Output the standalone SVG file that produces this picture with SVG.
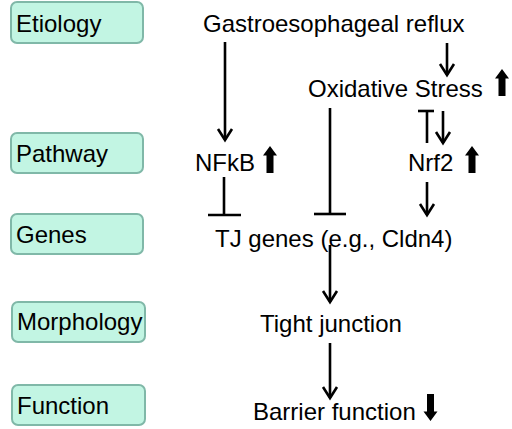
<svg xmlns="http://www.w3.org/2000/svg" width="512" height="429" viewBox="0 0 512 429">
  <style>
    .box { fill: #c2f5e3; stroke: #80b8a8; stroke-width: 2; }
    .lbl { font-family: "Liberation Sans", Arial, sans-serif; font-size: 24px; fill: #000; }
    .ln { stroke: #000; stroke-width: 2.6; fill: none; }
    .blk { fill: #000; }
  </style>
  <defs>
    <marker id="arr" markerUnits="userSpaceOnUse" markerWidth="16" markerHeight="16" refX="11" refY="7" orient="auto" overflow="visible">
      <path d="M0,0 L11,7 L0,14" fill="none" stroke="#000" stroke-width="2.6"/>
    </marker>
    <path id="up" d="M0,0 L7,9.5 L3.5,9.5 L3.5,27 L-3.5,27 L-3.5,9.5 L-7,9.5 Z"/>
  </defs>

  <rect width="512" height="429" fill="#fff"/>

  <g id="cat-etiology">
    <rect class="box" x="11" y="2" width="132" height="41" rx="6"/>
    <text class="lbl" x="16" y="32">Etiology</text>
  </g>
  <g id="cat-pathway">
    <rect class="box" x="11" y="133" width="132" height="40" rx="6"/>
    <text class="lbl" x="16" y="162">Pathway</text>
  </g>
  <g id="cat-genes">
    <rect class="box" x="11" y="214" width="132" height="40" rx="6"/>
    <text class="lbl" x="16" y="243">Genes</text>
  </g>
  <g id="cat-morphology">
    <rect class="box" x="12" y="302" width="133" height="40" rx="6"/>
    <text class="lbl" x="17" y="330">Morphology</text>
  </g>
  <g id="cat-function">
    <rect class="box" x="12" y="385" width="133" height="40" rx="6"/>
    <text class="lbl" x="17" y="414">Function</text>
  </g>

  <g id="node-reflux">
    <text class="lbl" x="203" y="32">Gastroesophageal reflux</text>
  </g>
  <g id="node-oxidative">
    <text class="lbl" x="308" y="97">Oxidative Stress</text>
    <use href="#up" class="blk" transform="translate(502,69)"/>
  </g>
  <g id="node-nfkb">
    <text class="lbl" x="195" y="171">NFkB</text>
    <use href="#up" class="blk" transform="translate(270,146)"/>
  </g>
  <g id="node-nrf2">
    <text class="lbl" x="408" y="171">Nrf2</text>
    <use href="#up" class="blk" transform="translate(472,146)"/>
  </g>
  <g id="node-tjgenes">
    <text class="lbl" x="215" y="247">TJ genes (e.g., Cldn4)</text>
  </g>
  <g id="node-tight">
    <text class="lbl" x="260" y="332">Tight junction</text>
  </g>
  <g id="node-barrier">
    <text class="lbl" x="253" y="420">Barrier function</text>
    <use href="#up" class="blk" transform="translate(430.5,421) rotate(180)"/>
  </g>

  <g id="connectors">
    <line class="ln" x1="225" y1="42" x2="225" y2="140" marker-end="url(#arr)"/>
    <line class="ln" x1="447" y1="43" x2="447" y2="75" marker-end="url(#arr)"/>
    <line class="ln" x1="330" y1="108" x2="330" y2="214"/>
    <line class="ln" x1="314" y1="214" x2="346" y2="214"/>
    <line class="ln" x1="224" y1="177" x2="224" y2="215"/>
    <line class="ln" x1="208" y1="215" x2="241" y2="215"/>
    <line class="ln" x1="427" y1="143" x2="427" y2="111"/>
    <line class="ln" x1="418" y1="111" x2="434" y2="111"/>
    <line class="ln" x1="443" y1="111" x2="443" y2="143" marker-end="url(#arr)"/>
    <line class="ln" x1="427" y1="182" x2="427" y2="215" marker-end="url(#arr)"/>
    <line class="ln" x1="330" y1="245" x2="330" y2="302" marker-end="url(#arr)"/>
    <line class="ln" x1="330" y1="343" x2="330" y2="398" marker-end="url(#arr)"/>
  </g>
</svg>
